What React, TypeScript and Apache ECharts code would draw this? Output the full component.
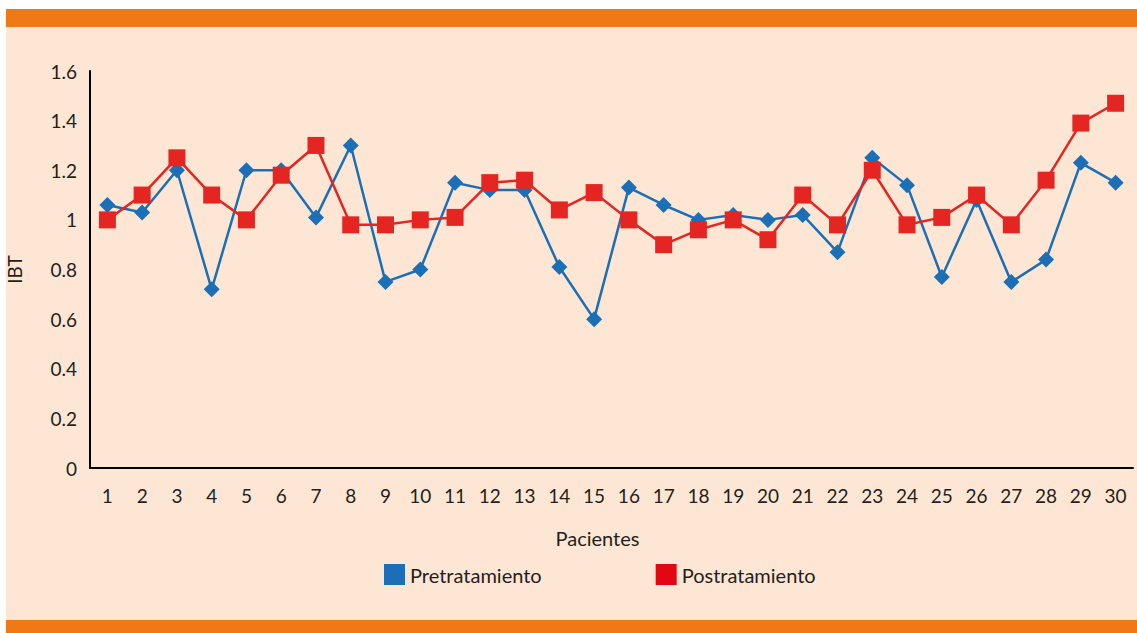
import React, { useEffect, useRef } from "react";
import * as echarts from "echarts";

const categories = Array.from({ length: 30 }, (_, i) => String(i + 1));
const pretratamiento = [
  1.06, 1.03, 1.2, 0.72, 1.2, 1.2, 1.01, 1.3, 0.75, 0.8,
  1.15, 1.12, 1.12, 0.81, 0.6, 1.13, 1.06, 1.0, 1.02, 1.0,
  1.02, 0.87, 1.25, 1.14, 0.77, 1.08, 0.75, 0.84, 1.23, 1.15,
];
const postratamiento = [
  1.0, 1.1, 1.25, 1.1, 1.0, 1.18, 1.3, 0.98, 0.98, 1.0,
  1.01, 1.15, 1.16, 1.04, 1.11, 1.0, 0.9, 0.96, 1.0, 0.92,
  1.1, 0.98, 1.2, 0.98, 1.01, 1.1, 0.98, 1.16, 1.39, 1.47,
];
const yTicks = [0, 0.2, 0.4, 0.6, 0.8, 1, 1.2, 1.4, 1.6];

const FONT = "Lato, 'Open Sans', sans-serif";
const TEXT = "#231F20";
const BLUE = "#1B6FB6";
const RED = "#E42521";

export default function App() {
  const ref = useRef<HTMLDivElement>(null);
  useEffect(() => {
    if (!ref.current) return;
    const chart = echarts.init(ref.current, undefined, { renderer: "svg" });
    chart.setOption({
      animation: false,
      backgroundColor: "#ffffff",
      textStyle: { fontFamily: FONT, color: TEXT },
      graphic: [
        { type: "rect", z: -10, shape: { x: 6, y: 27, width: 1131, height: 594 }, style: { fill: "#FDE6D4" } },
        { type: "rect", z: -10, shape: { x: 6, y: 9, width: 1131, height: 18 }, style: { fill: "#EF7A15" } },
        { type: "rect", z: -10, shape: { x: 6, y: 620, width: 1131, height: 13 }, style: { fill: "#EF7A15" } },
      ],
      grid: { left: 90, right: 4, top: 71, bottom: 165, containLabel: false, outerBoundsMode: "none" },
      legend: {
        top: 564,
        left: 384,
        padding: 0,
        itemGap: 114,
        itemWidth: 21,
        itemHeight: 21,
        icon: "rect",
        textStyle: { fontFamily: FONT, fontSize: 20, color: TEXT },
        data: [
          { name: "Pretratamiento", itemStyle: { color: "#1C6EB8" } },
          { name: "Postratamiento", itemStyle: { color: "#E30613" } },
        ],
      },
      xAxis: {
        type: "category",
        data: categories,
        boundaryGap: true,
        name: "Pacientes",
        nameLocation: "middle",
        nameGap: 60,
        nameTextStyle: { fontFamily: FONT, fontSize: 20, color: TEXT, padding: [0, 28, 0, 0] },
        axisLine: { lineStyle: { color: "#000", width: 2 } },
        axisTick: { show: false },
        axisLabel: { fontFamily: FONT, fontSize: 19, color: TEXT, margin: 18, interval: 0 },
        splitLine: { show: false },
      },
      yAxis: {
        type: "value",
        min: 0,
        max: 1.6,
        interval: 0.2,
        name: "IBT",
        nameLocation: "middle",
        nameGap: 66,
        nameRotate: 90,
        nameTextStyle: { fontFamily: FONT, fontSize: 19, color: TEXT },
        axisLine: { show: true, lineStyle: { color: "#000", width: 2 } },
        axisTick: { show: false },
        axisLabel: {
          fontFamily: FONT,
          fontSize: 19,
          color: TEXT,
          margin: 13,
          formatter: (v: number) => {
            const t = yTicks.find((x) => Math.abs(x - v) < 1e-6);
            return t === undefined ? "" : String(Number(t.toFixed(1)));
          },
        },
        splitLine: { show: false },
      },
      series: [
        {
          name: "Pretratamiento",
          type: "line",
          data: pretratamiento,
          symbol: "diamond",
          symbolSize: 16,
          lineStyle: { color: BLUE, width: 2.5 },
          itemStyle: { color: BLUE },
          z: 2,
        },
        {
          name: "Postratamiento",
          type: "line",
          data: postratamiento,
          symbol: "rect",
          symbolSize: 17,
          lineStyle: { color: RED, width: 2.5 },
          itemStyle: { color: RED },
          z: 3,
        },
      ],
    });
    return () => chart.dispose();
  }, []);
  return (
    <div
      ref={ref}
      style={{ position: "fixed", left: 0, top: 0, width: 1137, height: 633 }}
    />
  );
}
